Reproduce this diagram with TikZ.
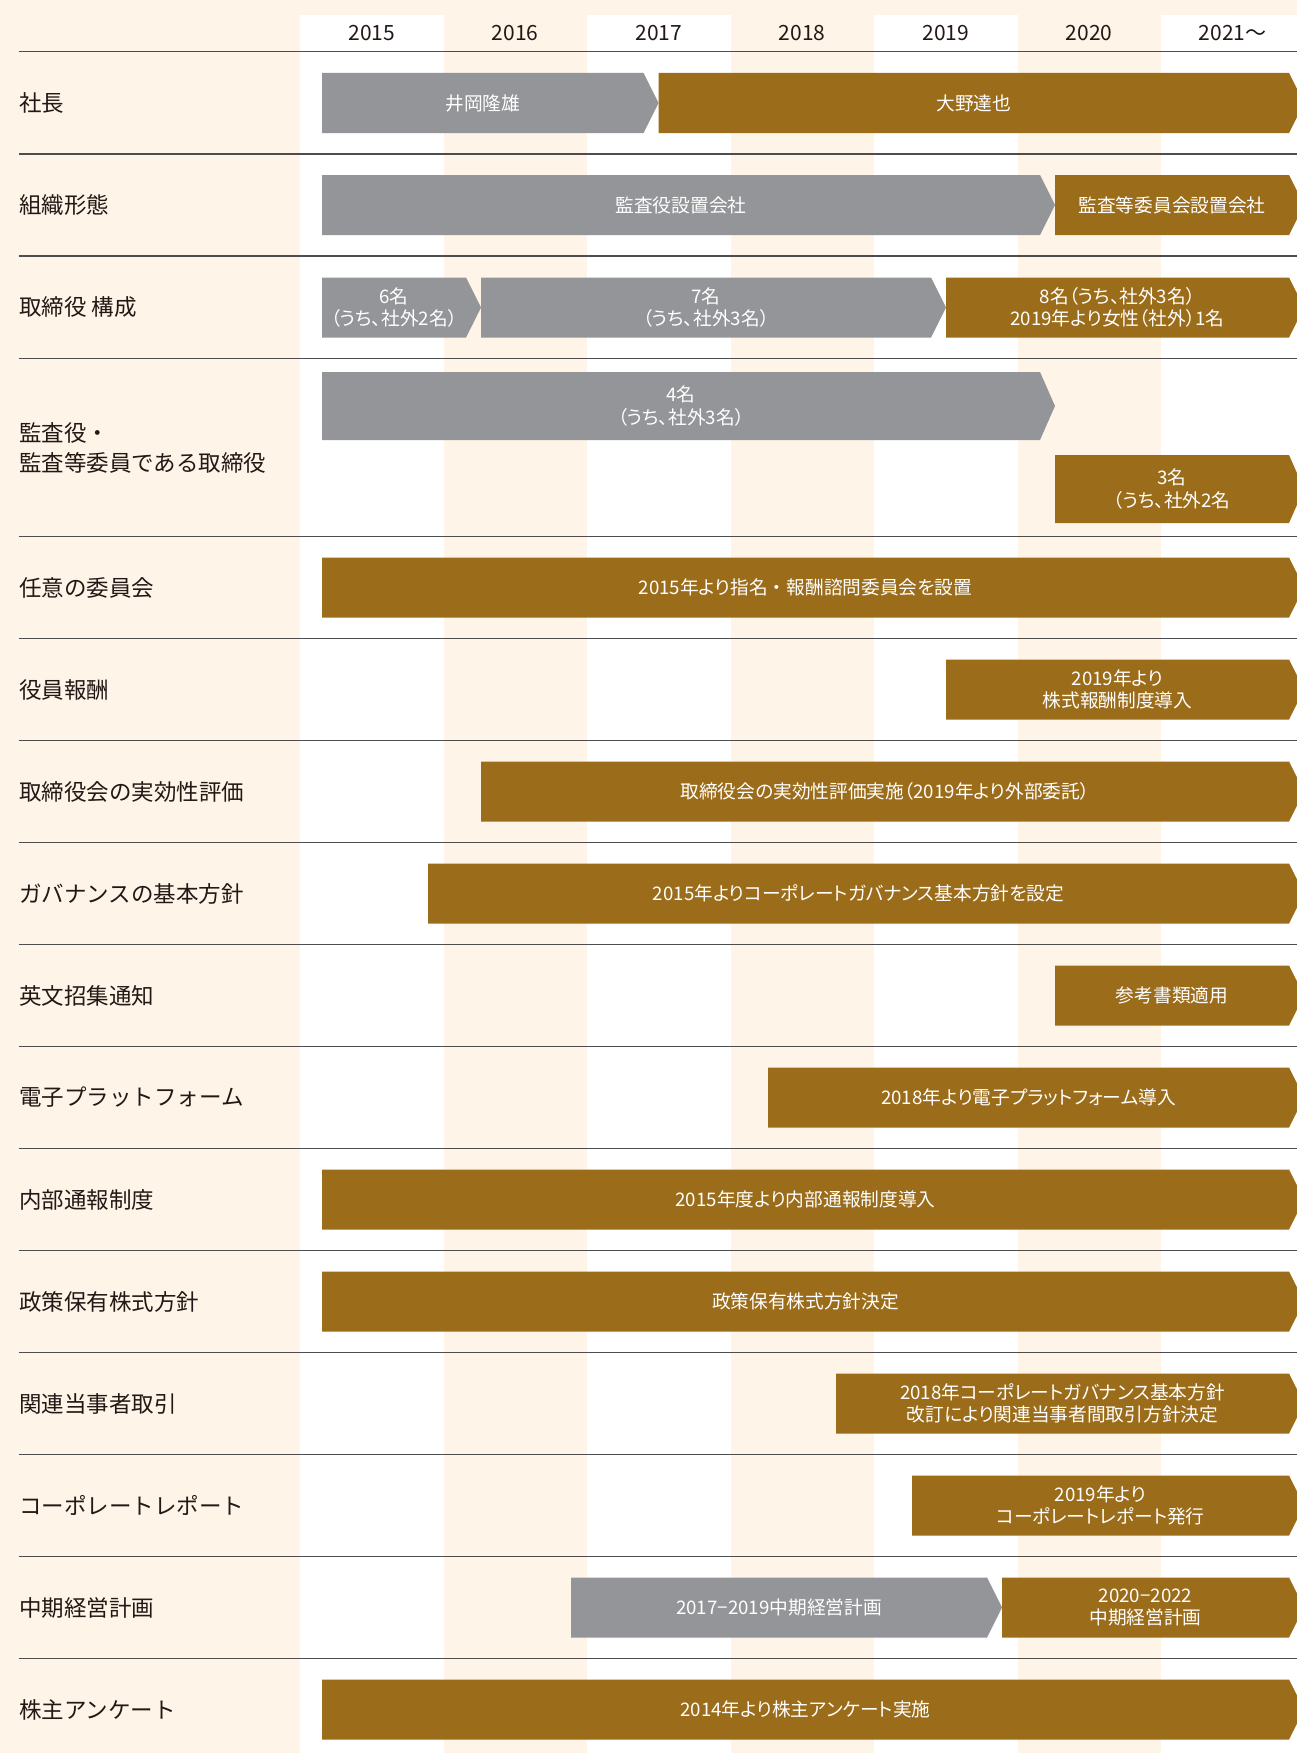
\documentclass[tikz,border=0pt]{standalone}
\usepackage{fontspec}
\setmainfont{Noto Sans CJK JP}[RawFeature=+palt]
\newfontfamily\labelfont{Noto Sans CJK JP}
\definecolor{cream}{HTML}{FEF5E8}
\definecolor{brownbar}{HTML}{9B6C1A}
\definecolor{greybar}{HTML}{939598}
\definecolor{rulec}{HTML}{4D4D4D}
\definecolor{txt}{HTML}{231815}
\newcommand\tlbar[7]{% name, x1, x2 (rect end), y centre, half height, colour, text
  \fill[#6] (#2,#4-#5) -- (#3,#4-#5) -- (#3+15,#4) -- (#3,#4+#5) -- (#2,#4+#5) -- cycle;
  \node[bartext] (#1) at ({(#2+#3)/2},#4) {#7};}
\begin{document}
\begin{tikzpicture}[x=1pt,y=-1pt,
  bartext/.style={text=white, font=\fontsize{18.7}{22.4}\selectfont, align=center, inner sep=0pt},
  rowlabel/.style={text=txt, font=\labelfont\fontsize{22.5}{30}\selectfont, align=left, anchor=west, inner sep=0pt},
  yearlabel/.style={text=txt, font=\fontsize{21}{24}\selectfont, inner sep=0pt},
  rulestyle/.style={draw=rulec, line width=1.4pt}]
\useasboundingbox (0,0) rectangle (1297,1753);
\clip (0,0) rectangle (1297,1753);
% background
\fill[cream] (0,0) rectangle (1297,1753);
\foreach \xa/\xb in {300/443.5, 587/730.5, 874/1017.5, 1161/1297}
  \fill[white] (\xa,15) rectangle (\xb,1753);
% years
\node[yearlabel] (y2015) at (371.75,33) {2015};
\node[yearlabel] (y2016) at (515.25,33) {2016};
\node[yearlabel] (y2017) at (658.75,33) {2017};
\node[yearlabel] (y2018) at (802.25,33) {2018};
\node[yearlabel] (y2019) at (945.75,33) {2019};
\node[yearlabel] (y2020) at (1089.25,33) {2020};
\node[yearlabel] (y2021) at (1232.75,33) {2021〜};
% rules
\foreach \yy in {51.5,154,256,358.5,536.5,638.5,740.5,842.5,944.5,1046.5,1148.5,1250.5,1352.5,1454.5,1556.5,1658.5}
  \draw[rulestyle] (19,\yy) -- (1297,\yy);
% row labels
\node[rowlabel] (l1) at (19,102.75) {社長};
\node[rowlabel] (l2) at (19,205) {組織形態};
\node[rowlabel] (l3) at (19,307.25) {取締役 構成};
\node[rowlabel] (l4) at (19,447.5) {監査役・\\監査等委員である取締役};
\node[rowlabel] (l5) at (19,587.5) {任意の委員会};
\node[rowlabel] (l6) at (19,689.5) {役員報酬};
\node[rowlabel] (l7) at (19,791.5) {取締役会の実効性評価};
\node[rowlabel] (l8) at (19,893.5) {ガバナンスの基本方針};
\node[rowlabel] (l9) at (19,995.5) {英文招集通知};
\node[rowlabel] (l10) at (19,1097.5) {電子プラットフォーム};
\node[rowlabel] (l11) at (19,1199.5) {内部通報制度};
\node[rowlabel] (l12) at (19,1301.5) {政策保有株式方針};
\node[rowlabel] (l13) at (19,1403.5) {関連当事者取引};
\node[rowlabel] (l14) at (19,1505.5) {コーポレートレポート};
\node[rowlabel] (l15) at (19,1607.5) {中期経営計画};
\node[rowlabel] (l16) at (19,1709.5) {株主アンケート};
% bars
\tlbar{b1a}{322}{643.5}{103}{30}{greybar}{井岡隆雄}
\tlbar{b1b}{658.5}{1289}{103}{30}{brownbar}{大野達也}
\tlbar{b2a}{322}{1040}{205}{30}{greybar}{監査役設置会社}
\tlbar{b2b}{1055}{1289}{205}{30}{brownbar}{監査等委員会設置会社}
\tlbar{b3a}{322}{466}{307.5}{30}{greybar}{6名\\（うち、社外2名）}
\tlbar{b3b}{481}{931}{307.5}{30}{greybar}{7名\\（うち、社外3名）}
\tlbar{b3c}{946}{1289}{307.5}{30}{brownbar}{8名（うち、社外3名）\\2019年より女性（社外）1名}
\tlbar{b4a}{322}{1040}{406}{34}{greybar}{4名\\（うち、社外3名）}
\tlbar{b4b}{1055}{1289}{489}{34}{brownbar}{3名\\（うち、社外2名}
\tlbar{b5}{322}{1289}{587.5}{30}{brownbar}{2015年より指名{\labelfont ・}報酬諮問委員会を設置}
\tlbar{b6}{946}{1289}{689.5}{30}{brownbar}{2019年より\\株式報酬制度導入}
\tlbar{b7}{481}{1289}{791.5}{30}{brownbar}{取締役会の実効性評価実施（2019年より外部委託）}
\tlbar{b8}{428}{1289}{893.5}{30}{brownbar}{2015年よりコーポレートガバナンス基本方針を設定}
\tlbar{b9}{1055}{1289}{995.5}{30}{brownbar}{参考書類適用}
\tlbar{b10}{768}{1289}{1097.5}{30}{brownbar}{2018年より電子プラットフォーム導入}
\tlbar{b11}{322}{1289}{1199.5}{30}{brownbar}{2015年度より内部通報制度導入}
\tlbar{b12}{322}{1289}{1301.5}{30}{brownbar}{政策保有株式方針決定}
\tlbar{b13}{836}{1289}{1403.5}{30}{brownbar}{2018年コーポレートガバナンス基本方針\\改訂により関連当事者間取引方針決定}
\tlbar{b14}{912}{1289}{1505.5}{30}{brownbar}{2019年より\\コーポレートレポート発行}
\tlbar{b15a}{571}{987}{1607.5}{30}{greybar}{2017−2019中期経営計画}
\tlbar{b15b}{1002}{1289}{1607.5}{30}{brownbar}{2020−2022\\中期経営計画}
\tlbar{b16}{322}{1289}{1709.5}{30}{brownbar}{2014年より株主アンケート実施}
\end{tikzpicture}
\end{document}
